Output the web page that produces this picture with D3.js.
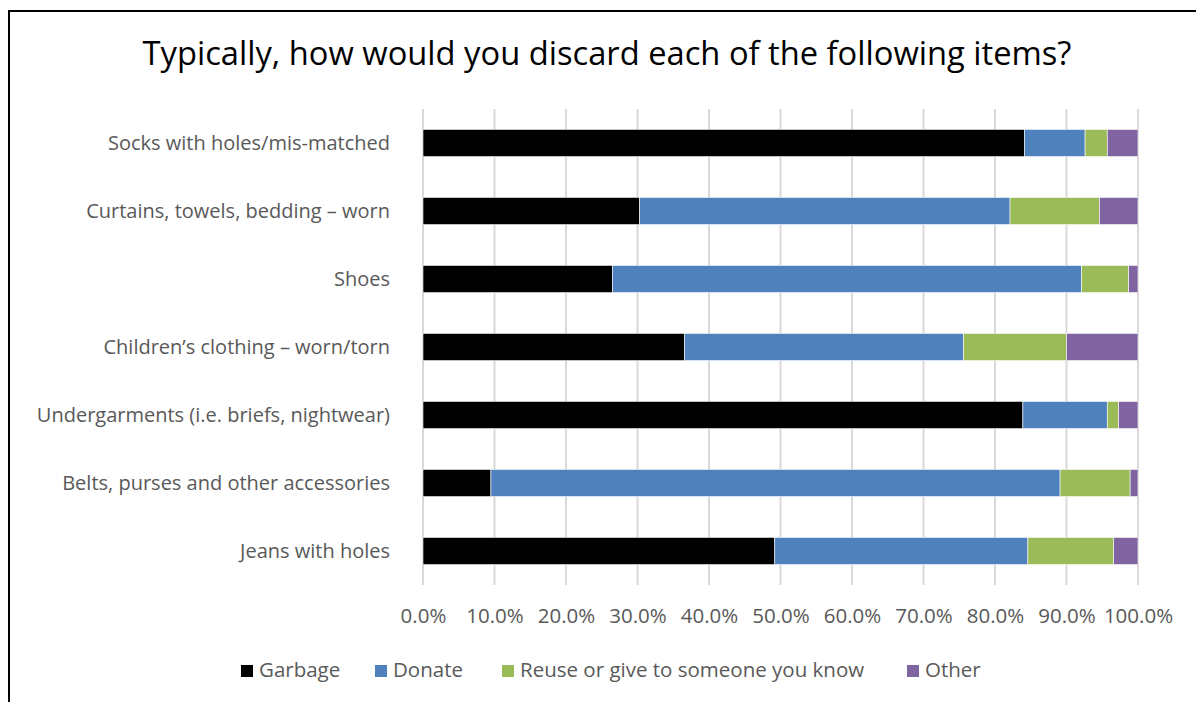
<!DOCTYPE html>
<html>
<head>
<meta charset="utf-8">
<script src="https://cdn.jsdelivr.net/npm/d3@7"></script>
<style>
  body { margin: 0; background: #fff; }
  svg text { font-family: "Open Sans", Lato, sans-serif; }
</style>
</head>
<body>
<div id="chart"></div>
<script>
// datos (porcentaje)
var items = ["Socks with holes/mis-matched", "Curtains, towels, bedding \u2013 worn", "Shoes",
  "Children\u2019s clothing \u2013 worn/torn", "Undergarments (i.e. briefs, nightwear)",
  "Belts, purses and other accessories", "Jeans with holes"];
var series = ["Garbage", "Donate", "Reuse or give to someone you know", "Other"];
var garbage = [84.1, 30.3, 26.5, 36.6, 83.9, 9.5, 49.2];
var donate  = [8.5, 51.8, 65.6, 39.0, 11.8, 79.6, 35.4];
var reuse   = [3.1, 12.5, 6.6, 14.4, 1.6, 9.8, 12.0];
var other   = [4.3, 5.4, 1.3, 10.0, 2.7, 1.1, 3.4];
var ticks = [0, 10, 20, 30, 40, 50, 60, 70, 80, 90, 100];

var colors = ["#000000", "#4F81BD", "#9BBB59", "#8064A2"];

var svg_w = 1196, svg_h = 702;
var plot_l = 423, plot_r = 1138, plot_t = 109, plot_b = 585;
var label_sz = 20, small_sz = 20.5;

var rows = items.map(function(d, i) {
  return { item: d, Garbage: garbage[i], Donate: donate[i],
    "Reuse or give to someone you know": reuse[i], Other: other[i] };
});

var svg = d3.select("#chart").append("svg")
  .attr("width", svg_w)
  .attr("height", svg_h);

// marco
svg.append("rect")
  .attr("x", 9).attr("y", 11)
  .attr("width", 1300).attr("height", 800)
  .attr("fill", "none")
  .attr("stroke", "#000")
  .attr("stroke-width", 2);

// titulo
svg.append("text")
  .attr("x", 607).attr("y", 65)
  .attr("text-anchor", "middle")
  .attr("font-size", 32.7)
  .attr("fill", "#000")
  .text("Typically, how would you discard each of the following items?");

// escalas
var x = d3.scaleLinear().domain([0, 100]).range([plot_l, plot_r]);
var y = d3.scaleBand().domain(items).range([plot_t, plot_b]).paddingInner(0.6).paddingOuter(0.3);

// grid
svg.append("g").selectAll("line")
  .data(ticks)
  .enter().append("line")
  .attr("x1", function(d) { return x(d); })
  .attr("x2", function(d) { return x(d); })
  .attr("y1", plot_t).attr("y2", plot_b)
  .attr("stroke", "#D9D9D9")
  .attr("stroke-width", 2);

// barras apiladas
var stack = d3.stack().keys(series)(rows);
svg.append("g").selectAll("g")
  .data(stack)
  .enter().append("g")
  .attr("fill", function(d, i) { return colors[i]; })
  .selectAll("rect")
  .data(function(d) { return d; })
  .enter().append("rect")
  .attr("x", function(d) { return x(d[0]); })
  .attr("width", function(d) { return x(d[1]) - x(d[0]); })
  .attr("y", function(d) { return y(d.data.item); })
  .attr("height", y.bandwidth())
  .attr("stroke", "#fff")
  .attr("stroke-width", 0.6);

// etiquetas de categoria
svg.append("g").selectAll("text")
  .data(items)
  .enter().append("text")
  .attr("x", 390)
  .attr("y", function(d) { return y(d) + y.bandwidth() / 2; })
  .attr("dy", "0.35em")
  .attr("text-anchor", "end")
  .attr("font-size", label_sz)
  .attr("fill", "#595959")
  .text(function(d) { return d; });

// eje x
var x_axis = d3.axisBottom(x)
  .tickValues(ticks)
  .tickSize(0)
  .tickPadding(0)
  .tickFormat(function(d) { return d3.format(".1f")(d) + "%"; });

var ax = svg.append("g")
  .attr("transform", "translate(0,623)")
  .call(x_axis);
ax.select(".domain").remove();
ax.selectAll("text")
  .attr("dy", 0)
  .attr("font-size", small_sz)
  .attr("font-family", "'Open Sans', Lato, sans-serif")
  .attr("fill", "#595959");

// leyenda
var leg_x = [241, 375, 502, 907];
var legend = svg.append("g").selectAll("g")
  .data(series)
  .enter().append("g")
  .attr("transform", function(d, i) { return "translate(" + leg_x[i] + ",665)"; });
legend.append("rect")
  .attr("width", 12).attr("height", 12)
  .attr("fill", function(d, i) { return colors[i]; });
legend.append("text")
  .attr("x", 18).attr("y", 12)
  .attr("font-size", small_sz)
  .attr("fill", "#595959")
  .text(function(d) { return d; });
</script>
</body>
</html>
